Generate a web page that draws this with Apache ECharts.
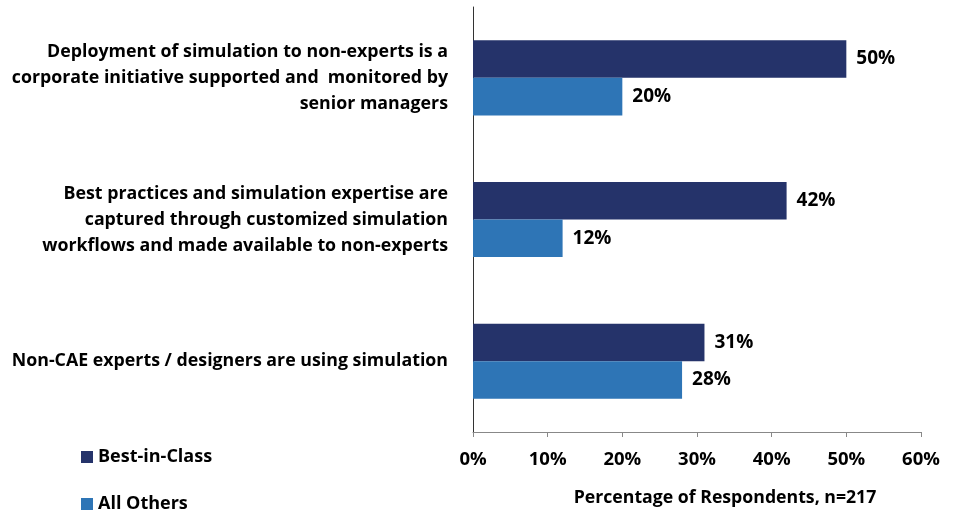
<!DOCTYPE html>
<html><head><meta charset="utf-8">
<script src="https://cdn.jsdelivr.net/npm/echarts@6/dist/echarts.min.js"></script>
<style>html,body{margin:0;padding:0;background:#fff}#c{width:958px;height:512px}</style>
</head><body><div id="c"></div>
<script>
const categories = [
  "Deployment of simulation to non-experts is a\ncorporate initiative supported and  monitored by\nsenior managers",
  "Best practices and simulation expertise are\ncaptured through customized simulation\nworkflows and made available to non-experts",
  "Non-CAE experts / designers are using simulation"
];
const bestInClass = [50, 42, 31];
const allOthers = [20, 12, 28];
const seriesNames = ["Best-in-Class", "All Others"];
const xTicks = [0, 10, 20, 30, 40, 50, 60];

const FONT = "Open Sans";
const chart = echarts.init(document.getElementById('c'));
const labelCfg = {
  show: true, position: 'right', distance: 10,
  formatter: p => Math.round(p.value) + '%',
  fontFamily: FONT, fontWeight: 'bold', fontSize: 19, color: '#000'
};
const legendText = { fontFamily: FONT, fontWeight: 'bold', fontSize: 18, color: '#000' };
chart.setOption({
  animation: false,
  textStyle: { fontFamily: FONT },
  grid: { left: 473, right: 37, top: 7, bottom: 78, containLabel: false },
  legend: [
    { orient: 'vertical', left: 76, top: 443, itemWidth: 12, itemHeight: 12, icon: 'rect',
      textStyle: legendText, data: [seriesNames[0]] },
    { orient: 'vertical', left: 76, top: 490, itemWidth: 12, itemHeight: 12, icon: 'rect',
      textStyle: legendText, data: [seriesNames[1]] }
  ],
  xAxis: {
    type: 'value', min: xTicks[0], max: xTicks[xTicks.length - 1], interval: 10,
    axisLine: { show: true, lineStyle: { color: '#888', width: 1 } },
    axisTick: { show: true, length: 5, lineStyle: { color: '#888' } },
    splitLine: { show: false },
    axisLabel: { formatter: v => v + '%', margin: 18, fontFamily: FONT, fontWeight: 'bold', fontSize: 18.5, color: '#000' },
    name: 'Percentage of Respondents, n=217',
    nameLocation: 'middle', nameGap: 57,
    nameTextStyle: { fontFamily: FONT, fontWeight: 'bold', fontSize: 17.7, color: '#000', padding: [0, 0, 0, 56] }
  },
  yAxis: {
    type: 'category', data: categories, inverse: true,
    axisLine: { show: true, lineStyle: { color: '#333', width: 1 } },
    axisTick: { show: false },
    axisLabel: { margin: 25, align: 'right', lineHeight: 26, fontFamily: FONT, fontWeight: 'bold', fontSize: 17.8, color: '#000' }
  },
  series: [
    { name: seriesNames[0], type: 'bar', data: bestInClass, barGap: '0%', barCategoryGap: '47%',
      itemStyle: { color: '#25336A' }, label: labelCfg },
    { name: seriesNames[1], type: 'bar', data: allOthers, barGap: '0%', barCategoryGap: '47%',
      itemStyle: { color: '#2E75B6' }, label: labelCfg }
  ]
});
</script></body></html>
